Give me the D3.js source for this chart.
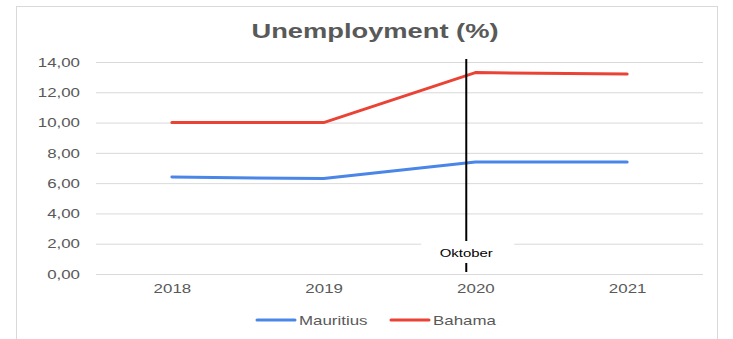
<!DOCTYPE html>
<html>
<head>
<meta charset="utf-8">
<script src="https://cdn.jsdelivr.net/npm/d3@7"></script>
<style>
  html, body { margin: 0; padding: 0; background: #fff; }
  svg { display: block; font-family: "Liberation Sans", Arial, sans-serif; }
</style>
</head>
<body>
<svg id="chart" width="733" height="339"></svg>
<script>
// Unemployment rate by year
const years = ["2018", "2019", "2020", "2021"];
const mauritius = [6.4, 6.3, 7.4, 7.4];
const bahama = [10.0, 10.0, 13.3, 13.2];
const yTicks = [0, 2, 4, 6, 8, 10, 12, 14];
const seriesNames = ["Mauritius", "Bahama"];
const seriesColors = ["#4a86e8", "#ea4335"];
// Marker for October 2020, in category-index units
const markerLabel = "Oktober";
const markerPos = 1.94;

const svg = d3.select("#chart");
const plot = { left: 96, right: 703, top: 62, bottom: 274 };
const stretch = 1.3; // horizontal widening of all text

// Widen a text element horizontally about its anchor point
function widen(sel, ax, ay) {
  sel.attr("transform", `translate(${ax},${ay}) scale(${stretch},1) translate(${-ax},${-ay})`);
}

// Outer frame
svg.append("rect")
  .attr("x", 16.5).attr("y", 6.5)
  .attr("width", 701).attr("height", 340)
  .attr("fill", "#fff").attr("stroke", "#d9d9d9").attr("stroke-width", 1);

// Title
svg.append("text")
  .attr("x", 375).attr("y", 38)
  .attr("text-anchor", "middle")
  .attr("font-size", 21).attr("font-weight", "bold")
  .attr("fill", "#595959")
  .text("Unemployment (%)")
  .call(widen, 375, 38);

const x = d3.scaleLinear().domain([-0.5, years.length - 0.5]).range([plot.left, plot.right]);
const y = d3.scaleLinear().domain([0, 14]).range([plot.bottom, plot.top]);

// Gridlines and y labels
const yAxis = d3.axisLeft(y)
  .tickValues(yTicks)
  .tickSize(-(plot.right - plot.left))
  .tickPadding(16)
  .tickFormat(d => d3.format(".2f")(d).replace(".", ","));
const yg = svg.append("g").attr("transform", `translate(${plot.left},0)`).call(yAxis);
yg.select(".domain").remove();
yg.selectAll(".tick line").attr("stroke", "#d9d9d9").attr("stroke-width", 1);
yg.selectAll(".tick text").attr("fill", "#595959").attr("font-size", 13)
  .attr("font-family", "Liberation Sans, Arial, sans-serif")
  .each(function () { widen(d3.select(this), -16, 0); });

// X labels
const xAxis = d3.axisBottom(x)
  .tickValues(years.map((_, i) => i))
  .tickSize(0)
  .tickPadding(10)
  .tickFormat(i => years[i]);
const xg = svg.append("g").attr("transform", `translate(0,${plot.bottom})`).call(xAxis);
xg.select(".domain").remove();
xg.selectAll(".tick text").attr("fill", "#595959").attr("font-size", 13)
  .attr("font-family", "Liberation Sans, Arial, sans-serif")
  .each(function () { widen(d3.select(this), 0, 0); });

// Series lines
const line = d3.line().x((d, i) => x(i)).y(d => y(d));
[mauritius, bahama].forEach((vals, k) => {
  svg.append("path")
    .datum(vals)
    .attr("d", line)
    .attr("fill", "none")
    .attr("stroke", seriesColors[k])
    .attr("stroke-width", 3)
    .attr("stroke-linejoin", "round")
    .attr("stroke-linecap", "round");
});

// October marker: vertical line with a label box
const mx = x(markerPos);
svg.append("line")
  .attr("x1", mx).attr("x2", mx)
  .attr("y1", 59).attr("y2", plot.bottom - 2)
  .attr("stroke", "#000").attr("stroke-width", 2);
svg.append("rect")
  .attr("x", mx - 45).attr("y", 241)
  .attr("width", 93).attr("height", 22)
  .attr("fill", "#fff");
svg.append("text")
  .attr("x", mx).attr("y", 257)
  .attr("text-anchor", "middle")
  .attr("font-size", 11.5).attr("fill", "#000")
  .text(markerLabel)
  .call(widen, mx, 257);

// Legend
const legendItems = [
  { name: seriesNames[0], color: seriesColors[0], x0: 257 },
  { name: seriesNames[1], color: seriesColors[1], x0: 391 }
];
const lg = svg.append("g");
legendItems.forEach(it => {
  lg.append("line")
    .attr("x1", it.x0).attr("x2", it.x0 + 38)
    .attr("y1", 320).attr("y2", 320)
    .attr("stroke", it.color).attr("stroke-width", 3)
    .attr("stroke-linecap", "round");
  lg.append("text")
    .attr("x", it.x0 + 42).attr("y", 325)
    .attr("font-size", 13).attr("fill", "#595959")
    .text(it.name)
    .call(widen, it.x0 + 42, 325);
});
</script>
</body>
</html>
